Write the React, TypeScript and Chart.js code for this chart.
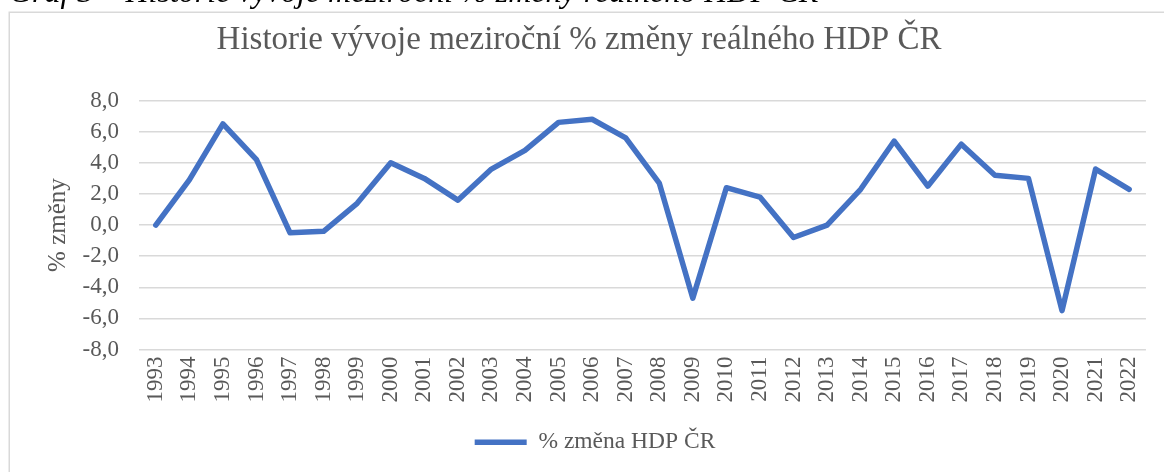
import React, { useEffect, useRef } from "react";
import { Chart, registerables } from "chart.js";

Chart.register(...registerables);

const years = [
  "1993", "1994", "1995", "1996", "1997", "1998", "1999", "2000", "2001", "2002",
  "2003", "2004", "2005", "2006", "2007", "2008", "2009", "2010", "2011", "2012",
  "2013", "2014", "2015", "2016", "2017", "2018", "2019", "2020", "2021", "2022",
];
const gdpChange = [
  0.0, 2.9, 6.5, 4.2, -0.5, -0.4, 1.4, 4.0, 3.0, 1.6,
  3.6, 4.8, 6.6, 6.8, 5.6, 2.7, -4.7, 2.4, 1.8, -0.8,
  0.0, 2.3, 5.4, 2.5, 5.2, 3.2, 3.0, -5.5, 3.6, 2.3,
];
const yTickValues = [-8, -6, -4, -2, 0, 2, 4, 6, 8];
const chartTitle = "Historie vývoje meziroční % změny reálného HDP ČR";
const caption = "Graf 3 – Historie vývoje meziroční % změny reálného HDP ČR";
const seriesLabel = "% změna HDP ČR";
const yAxisTitle = "% změny";

const FONT = "'Liberation Serif', 'Times New Roman', serif";
const TEXT = "#595959";
const LINE = "#4472C4";
const GRID = "#d9d9d9";

export default function App() {
  const ref = useRef<HTMLCanvasElement>(null);

  useEffect(() => {
    if (!ref.current) return;
    const framePlugin = {
      id: "frame",
      beforeDraw(chart: any) {
        const ctx = chart.ctx;
        ctx.save();
        ctx.strokeStyle = GRID;
        ctx.lineWidth = 1.5;
        ctx.strokeRect(9.25, 12.25, 1400, 800);
        ctx.restore();
      },
    };
    const legendShift = {
      id: "legendShift",
      afterLayout(chart: any) {
        const l = chart.legend;
        if (l) {
          l.left += 16;
          l.right += 16;
        }
      },
    };
    const chart = new Chart(ref.current, {
      type: "line",
      data: {
        labels: years,
        datasets: [
          {
            label: seriesLabel,
            data: gdpChange,
            borderColor: LINE,
            backgroundColor: LINE,
            borderWidth: 5.5,
            pointRadius: 0,
            pointHoverRadius: 0,
            borderJoinStyle: "round",
            borderCapStyle: "round",
            tension: 0,
          },
        ],
      },
      options: {
        responsive: false,
        animation: false,
        events: [],
        layout: { padding: { left: 9, top: 13, right: 15, bottom: 8 } },
        plugins: {
          title: {
            display: true,
            text: chartTitle,
            color: TEXT,
            font: { family: FONT, size: 33, weight: "normal", lineHeight: 1.2 },
            padding: { top: 8, bottom: 40 },
          },
          legend: {
            position: "bottom",
            labels: {
              usePointStyle: true,
              pointStyle: "line",
              pointStyleWidth: 52,
              color: TEXT,
              font: { family: FONT, size: 23.5 },
              padding: 10,
            },
          },
          tooltip: { enabled: false },
        },
        scales: {
          x: {
            offset: true,
            grid: { display: false, drawTicks: false, offset: true },
            border: { display: false },
            ticks: {
              color: TEXT,
              font: { family: FONT, size: 23 },
              minRotation: 90,
              maxRotation: 90,
              padding: 7,
              autoSkip: false,
            },
            afterFit(s: any) {
              s.height = 71;
            },
          },
          y: {
            min: -8,
            max: 8,
            afterBuildTicks(s: any) {
              s.ticks = yTickValues.map((v) => ({ value: v }));
            },
            ticks: {
              color: TEXT,
              font: { family: FONT, size: 23 },
              padding: 20,
              callback: (v: any) => Number(v).toFixed(1).replace(".", ","),
            },
            grid: { color: GRID, lineWidth: 1.5, drawTicks: false },
            border: { display: false },
            title: {
              display: true,
              text: yAxisTitle,
              color: TEXT,
              font: { family: FONT, size: 25 },
              padding: { top: 34, bottom: 0 },
            },
            afterFit(s: any) {
              s.width = 130;
            },
          },
        },
      },
      plugins: [framePlugin, legendShift],
    } as any);
    return () => chart.destroy();
  }, []);

  return (
    <div
      style={{
        position: "absolute",
        left: 0,
        top: 0,
        width: 1164,
        height: 472,
        overflow: "hidden",
        background: "#fff",
      }}
    >
      <canvas
        ref={ref}
        width={1164}
        height={472}
        style={{ position: "absolute", left: 0, top: 0, width: 1164, height: 472 }}
      />
      <div
        style={{
          position: "absolute",
          left: 9,
          top: -25,
          font: `italic 32px ${FONT}`,
          lineHeight: "32px",
          whiteSpace: "nowrap",
          color: "#000",
        }}
      >
        {caption}
      </div>
    </div>
  );
}
